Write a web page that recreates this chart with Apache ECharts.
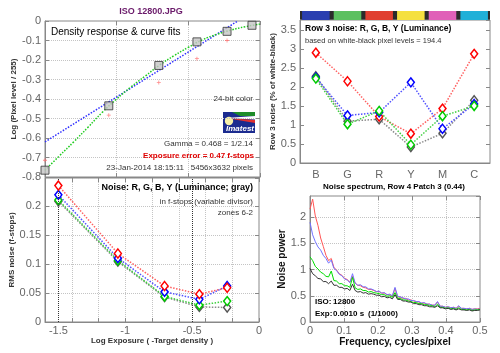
<!DOCTYPE html>
<html>
<head>
<meta charset="UTF-8">
<title>ISO 12800.JPG</title>
<script src="https://cdn.jsdelivr.net/npm/echarts@6/dist/echarts.min.js"></script>
<style>
html,body{margin:0;padding:0;background:#fff}
#main{width:500px;height:353px}
</style>
</head>
<body>
<div id="main"></div>
<script>
// --- density response & curve fits (top left)
var patchX = [-1.5, -1.055, -0.706, -0.44, -0.23, -0.056];
var patchY = [-0.765, -0.435, -0.228, -0.107, -0.053, -0.022];
var redPtX = [-1.5, -1.055, -0.706, -0.44, -0.23];
var redPtY = [-0.714, -0.483, -0.315, -0.193, -0.100];
var fitX = [-1.5, -1.4, -1.3, -1.2, -1.1, -1.0, -0.9, -0.8, -0.7, -0.6, -0.5, -0.4, -0.3, -0.2, -0.1, 0];
var fitGreen = [-0.765, -0.692, -0.620, -0.545, -0.468, -0.400, -0.338, -0.282, -0.226, -0.178, -0.135, -0.096, -0.068, -0.046, -0.029, -0.016];
var lineBlueX = [-1.5, -0.155];
var lineBlueY = [-0.62, 0];

// --- row 3 noise (top right)
var colorNames = ['B', 'G', 'R', 'Y', 'M', 'C'];
var colorSwatch = ['#2a3fb0', '#5cc060', '#e04030', '#f5e040', '#e060b8', '#20b0d8'];
var swatchLevel = [1, 1, 1, 1, 1, 1];
var row3Red = [2.9, 2.15, 1.22, 0.77, 1.43, 2.87];
var row3Blue = [2.25, 1.25, 1.33, 2.12, 0.9, 1.55];
var row3Green = [2.22, 1.02, 1.37, 0.48, 1.23, 1.5];
var row3Gray = [2.28, 1.1, 1.15, 0.42, 0.78, 1.65];

// --- noise in f-stops (bottom left)
var zoneX = [-1.5, -1.055, -0.706, -0.446, -0.238];
var noiseRed = [0.235, 0.118, 0.062, 0.048, 0.059];
var noiseBlue = [0.219, 0.110, 0.052, 0.039, 0.062];
var noiseGreen = [0.210, 0.106, 0.044, 0.029, 0.036];
var noiseGray = [0.208, 0.104, 0.043, 0.026, 0.025];
var zoneLimits = [-1.5, -0.5];

// --- noise spectrum (bottom right)
var freq = [0, 0.0078, 0.0156, 0.0234, 0.0313, 0.0391, 0.0469, 0.0547, 0.0625, 0.0703,
  0.0781, 0.0859, 0.0938, 0.1016, 0.1094, 0.1172, 0.125, 0.1328, 0.1406, 0.1484,
  0.1563, 0.1641, 0.1719, 0.1797, 0.1875, 0.1953, 0.2031, 0.2109, 0.2188, 0.2266,
  0.2344, 0.2422, 0.25, 0.2578, 0.2656, 0.2734, 0.2813, 0.2891, 0.2969, 0.3047,
  0.3125, 0.3203, 0.3281, 0.3359, 0.3438, 0.3516, 0.3594, 0.3672, 0.375, 0.3828,
  0.3906, 0.3984, 0.4063, 0.4141, 0.4219, 0.4297, 0.4375, 0.4453, 0.4531, 0.4609,
  0.4688, 0.4766, 0.4844, 0.4922, 0.5];
var specRed = [2.15, 2.34, 2.02, 1.84, 1.60, 1.44, 1.27, 1.17, 1.21, 1.04,
  0.99, 0.92, 0.89, 0.83, 0.81, 0.76, 0.87, 0.74, 0.70, 0.69,
  0.66, 0.65, 0.62, 0.62, 0.60, 0.58, 0.58, 0.55, 0.55, 0.52,
  0.52, 0.49, 0.64, 0.48, 0.47, 0.45, 0.45, 0.42, 0.42, 0.40,
  0.39, 0.38, 0.36, 0.36, 0.34, 0.34, 0.32, 0.32, 0.38, 0.30,
  0.30, 0.28, 0.29, 0.27, 0.28, 0.26, 0.30, 0.26, 0.26, 0.25,
  0.26, 0.24, 0.25, 0.25, 0.26];
var specBlue = [1.90, 1.66, 1.53, 1.43, 1.37, 1.27, 1.21, 1.12, 1.18, 1.02,
  0.98, 0.91, 0.88, 0.82, 0.80, 0.75, 0.92, 0.74, 0.70, 0.71,
  0.67, 0.67, 0.63, 0.63, 0.61, 0.58, 0.59, 0.55, 0.56, 0.52,
  0.53, 0.50, 0.66, 0.49, 0.48, 0.46, 0.44, 0.44, 0.41, 0.41,
  0.39, 0.39, 0.36, 0.37, 0.34, 0.34, 0.32, 0.32, 0.39, 0.30,
  0.30, 0.28, 0.29, 0.27, 0.28, 0.26, 0.31, 0.26, 0.26, 0.25,
  0.26, 0.24, 0.25, 0.24, 0.25];
var specGreen = [1.24, 1.17, 1.06, 1.01, 0.95, 0.92, 0.87, 0.86, 0.97, 0.79,
  0.78, 0.73, 0.73, 0.69, 0.69, 0.66, 0.85, 0.65, 0.62, 0.63,
  0.60, 0.60, 0.57, 0.58, 0.56, 0.55, 0.54, 0.52, 0.52, 0.49,
  0.50, 0.47, 0.56, 0.45, 0.45, 0.42, 0.42, 0.40, 0.39, 0.37,
  0.37, 0.35, 0.35, 0.33, 0.33, 0.31, 0.31, 0.29, 0.34, 0.28,
  0.28, 0.26, 0.27, 0.25, 0.26, 0.24, 0.27, 0.24, 0.24, 0.23,
  0.24, 0.22, 0.23, 0.23, 0.24];
var specGray = [1.02, 0.92, 0.88, 0.83, 0.82, 0.77, 0.77, 0.73, 0.78, 0.70,
  0.70, 0.66, 0.66, 0.63, 0.64, 0.60, 0.72, 0.60, 0.57, 0.58,
  0.55, 0.56, 0.53, 0.54, 0.53, 0.51, 0.51, 0.48, 0.49, 0.46,
  0.47, 0.44, 0.52, 0.43, 0.43, 0.40, 0.40, 0.38, 0.38, 0.35,
  0.35, 0.33, 0.33, 0.31, 0.31, 0.29, 0.29, 0.28, 0.31, 0.27,
  0.27, 0.25, 0.26, 0.24, 0.25, 0.23, 0.25, 0.23, 0.23, 0.22,
  0.23, 0.21, 0.22, 0.22, 0.23];

var FONT = 'Liberation Sans, Arial, sans-serif';

function zip(xs, ys) {
    return xs.map(function (x, i) { return [x, ys[i]]; });
}

var tickLabel = { color: '#666', fontSize: 11, fontFamily: FONT };
var inTick = { show: true, inside: true, length: 4, lineStyle: { color: '#888' } };
var boxLine = { show: true, onZero: false, lineStyle: { color: '#888', width: 1 } };
var noLine = { show: false, onZero: false };
var dotGrid = { show: true, lineStyle: { color: '#c4c4c4', type: 'dotted', width: 1 } };
var axisName = { color: '#333', fontSize: 8, fontWeight: 'bold', fontFamily: FONT };

// an extra axis that only carries the ticks on the far side of the box
function sideTicks(base, pos) {
    return Object.assign({}, base, {
        position: pos, name: '', axisLabel: { show: false }, axisLine: noLine,
        axisTick: inTick, splitLine: { show: false }
    });
}

var tlX = { type: 'value', gridIndex: 0, min: -1.5, max: 0, interval: 0.5 };
var tlY = { type: 'value', gridIndex: 0, min: -0.8, max: 0, interval: 0.1 };
var trY = { type: 'value', gridIndex: 2, min: 0, max: 3.76, interval: 0.5 };
var blXgrid = { type: 'value', gridIndex: 3, min: -1.6, max: 0, interval: 0.2 };
var blY = { type: 'value', gridIndex: 3, min: 0, max: 0.248, interval: 0.05 };
var brX = { type: 'value', gridIndex: 4, min: 0, max: 0.5, interval: 0.1 };
var brY = { type: 'value', gridIndex: 4, min: 0, max: 2.4, interval: 0.5 };

var xAxes = [
    // 0 TL bottom
    Object.assign({}, tlX, { position: 'bottom', axisLine: boxLine, axisTick: inTick, axisLabel: { show: false }, splitLine: dotGrid }),
    // 1 TL top
    sideTicks(tlX, 'top'),
    // 2 colour strip
    { type: 'category', gridIndex: 1, data: colorNames, show: false },
    // 3 TR categories
    { type: 'category', gridIndex: 2, data: colorNames, position: 'bottom', axisLine: boxLine,
      axisTick: { show: false }, axisLabel: Object.assign({ margin: 6 }, tickLabel) },
    // 4 BL grid + ticks
    Object.assign({}, blXgrid, { position: 'bottom', axisLine: boxLine, axisTick: inTick, axisLabel: { show: false }, splitLine: dotGrid }),
    // 5 BL labels only
    { type: 'value', gridIndex: 3, min: -1.6, max: 0, interval: 0.1, position: 'bottom',
      axisLine: noLine, axisTick: { show: false }, splitLine: { show: false },
      axisLabel: Object.assign({ margin: 3, formatter: function (v) {
          return Math.abs(v * 2 - Math.round(v * 2)) < 1e-6 ? String(Math.round(v * 2) / 2) : '';
      } }, tickLabel),
      name: 'Log Exposure ( -Target density )', nameLocation: 'middle', nameGap: 13, nameTextStyle: axisName },
    // 6 BL top
    sideTicks(blXgrid, 'top'),
    // 7 BR bottom
    Object.assign({}, brX, { position: 'bottom', axisLine: boxLine, axisTick: inTick,
      axisLabel: Object.assign({ margin: 3 }, tickLabel), splitLine: dotGrid,
      name: 'Frequency, cycles/pixel', nameLocation: 'middle', nameGap: 13,
      nameTextStyle: Object.assign({}, axisName, { fontSize: 10, color: '#111' }) }),
    // 8 BR top
    sideTicks(brX, 'top')
];

var yAxes = [
    // 0 TL left
    Object.assign({}, tlY, { position: 'left', axisLine: boxLine, axisTick: inTick,
      axisLabel: Object.assign({ margin: 4 }, tickLabel), splitLine: dotGrid,
      name: 'Log (Pixel level / 255)', nameLocation: 'middle', nameGap: 23, nameTextStyle: axisName }),
    // 1 TL right
    sideTicks(tlY, 'right'),
    // 2 colour strip
    { type: 'value', gridIndex: 1, min: 0, max: 1, show: false },
    // 3 TR left
    Object.assign({}, trY, { position: 'left', axisLine: boxLine, axisTick: inTick,
      axisLabel: Object.assign({ margin: 4, showMaxLabel: false }, tickLabel), splitLine: { show: false },
      name: 'Row 3 noise (% of white-black)', nameLocation: 'middle', nameGap: 20, nameTextStyle: axisName }),
    // 4 TR right
    sideTicks(trY, 'right'),
    // 5 BL left
    Object.assign({}, blY, { position: 'left', axisLine: boxLine, axisTick: inTick,
      axisLabel: Object.assign({ margin: 4, showMaxLabel: false }, tickLabel), splitLine: dotGrid,
      name: 'RMS noise (f-stops)', nameLocation: 'middle', nameGap: 24, nameTextStyle: axisName }),
    // 6 BL right
    sideTicks(blY, 'right'),
    // 7 BR left
    Object.assign({}, brY, { position: 'left', axisLine: boxLine, axisTick: inTick,
      axisLabel: Object.assign({ margin: 4, showMaxLabel: false }, tickLabel), splitLine: dotGrid,
      name: 'Noise power', nameLocation: 'middle', nameGap: 17,
      nameTextStyle: Object.assign({}, axisName, { fontSize: 10, color: '#111' }) }),
    // 8 BR right
    sideTicks(brY, 'right')
];

var box = { show: true, borderColor: '#888', borderWidth: 1, backgroundColor: 'transparent' };
var grids = [
    Object.assign({ left: 45, top: 21, width: 215, height: 156 }, box),
    { left: 300, top: 11, width: 190, height: 9, show: true, backgroundColor: '#2b2b2b', borderWidth: 0 },
    Object.assign({ left: 300, top: 20, width: 190, height: 143 }, box),
    Object.assign({ left: 45, top: 178, width: 214, height: 144 }, box),
    Object.assign({ left: 310, top: 196, width: 170, height: 126 }, box)
];

function dotLine(name, data, xi, yi, lineColor, markColor, z) {
    return {
        name: name, type: 'line', xAxisIndex: xi, yAxisIndex: yi, data: data, z: z,
        symbol: 'diamond', symbolSize: [7, 9], showSymbol: true,
        lineStyle: { color: lineColor, type: 'dotted', width: 1.5 },
        itemStyle: { color: '#ffffff', borderColor: markColor, borderWidth: 1.5 }
    };
}

function specLine(name, ys, color, z) {
    return {
        name: name, type: 'line', xAxisIndex: 7, yAxisIndex: 7, data: zip(freq, ys), z: z,
        symbol: 'none', lineStyle: { color: color, width: 1 }
    };
}

var series = [
    // TL
    { type: 'line', xAxisIndex: 0, yAxisIndex: 0, data: zip(lineBlueX, lineBlueY), symbol: 'none',
      lineStyle: { color: '#3030ff', type: 'dotted', width: 1.5 } },
    { type: 'line', xAxisIndex: 0, yAxisIndex: 0, data: zip(fitX, fitGreen), symbol: 'none', smooth: true,
      lineStyle: { color: '#20cc20', type: 'dotted', width: 1.5 } },
    { type: 'scatter', xAxisIndex: 0, yAxisIndex: 0, data: zip(redPtX, redPtY),
      symbol: 'path://M2,0h1v5h-1z M0,2h5v1h-5z', symbolSize: 4, itemStyle: { color: '#ff6a6a' } },
    { type: 'scatter', xAxisIndex: 0, yAxisIndex: 0, data: zip(patchX, patchY), symbol: 'rect', symbolSize: 8, z: 5,
      itemStyle: { color: '#c4c4c4', borderColor: '#333', borderWidth: 1 } },
    // colour strip
    { type: 'bar', xAxisIndex: 2, yAxisIndex: 2, barCategoryGap: '13%', silent: true,
      data: swatchLevel.map(function (v, i) { return { value: v, itemStyle: { color: colorSwatch[i] } }; }) },
    // TR
    dotLine('Y', row3Gray, 3, 3, '#8a8a8a', '#555', 2),
    dotLine('R', row3Red, 3, 3, '#ff6060', '#ff0000', 3),
    dotLine('B', row3Blue, 3, 3, '#5050ff', '#0000ff', 4),
    dotLine('G', row3Green, 3, 3, '#40d040', '#00cc00', 5),
    // BL
    Object.assign(dotLine('Y', zip(zoneX, noiseGray), 4, 5, '#8a8a8a', '#555', 2), {
        markLine: { silent: true, symbol: 'none', label: { show: false },
          lineStyle: { color: '#333', type: 'dotted', width: 1 },
          data: zoneLimits.map(function (v) { return { xAxis: v }; }) } }),
    dotLine('G', zip(zoneX, noiseGreen), 4, 5, '#40d040', '#00cc00', 3),
    dotLine('B', zip(zoneX, noiseBlue), 4, 5, '#5050ff', '#0000ff', 4),
    dotLine('R', zip(zoneX, noiseRed), 4, 5, '#ff6060', '#ff0000', 5),
    // BR
    specLine('R', specRed, '#ff5555', 2),
    specLine('B', specBlue, '#7272ff', 3),
    specLine('G', specGreen, '#00dd00', 4),
    specLine('Y', specGray, '#333333', 5)
];

function txt(x, y, s, opt) {
    opt = opt || {};
    var st = {
        text: s, fill: opt.color || '#333',
        font: (opt.style || 'normal') + ' ' + (opt.weight || 'normal') + ' ' + (opt.size || 8) + 'px ' + FONT,
        align: opt.align || 'left', textAlign: opt.align || 'left',
        verticalAlign: 'middle', textVerticalAlign: 'middle'
    };
    return { type: 'text', x: x, y: y, z: 100, style: st };
}

var graphics = [
    txt(151, 12, 'ISO 12800.JPG', { color: '#6a1a6a', weight: 'bold', size: 9, align: 'center' }),
    txt(51, 32, 'Density response & curve fits', { color: '#000', size: 10 }),
    txt(253, 99, '24-bit color', { align: 'right' }),
    txt(253, 144, 'Gamma = 0.468 = 1/2.14', { align: 'right' }),
    txt(254, 156, 'Exposure error = 0.47 f-stops', { align: 'right', color: '#e00000', weight: 'bold' }),
    txt(253, 168, '23-Jan-2014 18:15:11   5456x3632 pixels', { align: 'right' }),
    txt(305, 29, 'Row 3 noise: R, G, B, Y (Luminance)', { color: '#000', weight: 'bold', size: 8.5 }),
    txt(305, 41, 'based on white-black pixel levels = 194.4', { size: 7.5 }),
    txt(253, 188, 'Noise: R, G, B, Y (Luminance; gray)', { align: 'right', color: '#000', weight: 'bold', size: 9 }),
    txt(253, 202, 'in f-stops (variable divisor)', { align: 'right' }),
    txt(253, 213, 'zones 6-2', { align: 'right' }),
    txt(394, 187, 'Noise spectrum, Row 4 Patch 3 (0.44)', { align: 'center', color: '#000', weight: 'bold', size: 8 }),
    txt(315, 302, 'ISO:', { color: '#000', weight: 'bold', size: 8 }),
    txt(333, 302, '12800', { color: '#000', weight: 'bold', size: 8 }),
    txt(315, 314, 'Exp:', { color: '#000', weight: 'bold', size: 8 }),
    txt(333, 314, '0.0010 s', { color: '#000', weight: 'bold', size: 8 }),
    txt(368, 314, '(1/1000)', { color: '#000', weight: 'bold', size: 8 }),
    // Imatest logo
    { type: 'group', z: 90, children: [
        { type: 'rect', shape: { x: 223, y: 112, width: 32, height: 21 }, style: { fill: '#1b2b8f' } },
        { type: 'polygon', shape: { points: [[232, 112], [255, 112], [255, 116], [240, 116]] }, style: { fill: '#1e8c2a' } },
        { type: 'polygon', shape: { points: [[226, 118], [255, 116], [255, 119.5]] }, style: { fill: '#ffffff' } },
        { type: 'polygon', shape: { points: [[226, 118], [255, 120], [255, 123]] }, style: { fill: '#e03030' } },
        { type: 'circle', shape: { cx: 229, cy: 121, r: 4.2 }, style: { fill: '#f6f0a8' } },
        txt(240, 128.5, 'Imatest', { align: 'center', color: '#ffffff', weight: 'bold', style: 'italic', size: 8 })
    ] }
];

var chart = echarts.init(document.getElementById('main'), null, { renderer: 'canvas' });
chart.setOption({
    animation: false,
    backgroundColor: '#ffffff',
    grid: grids,
    xAxis: xAxes,
    yAxis: yAxes,
    series: series,
    graphic: graphics
});
</script>
</body>
</html>
